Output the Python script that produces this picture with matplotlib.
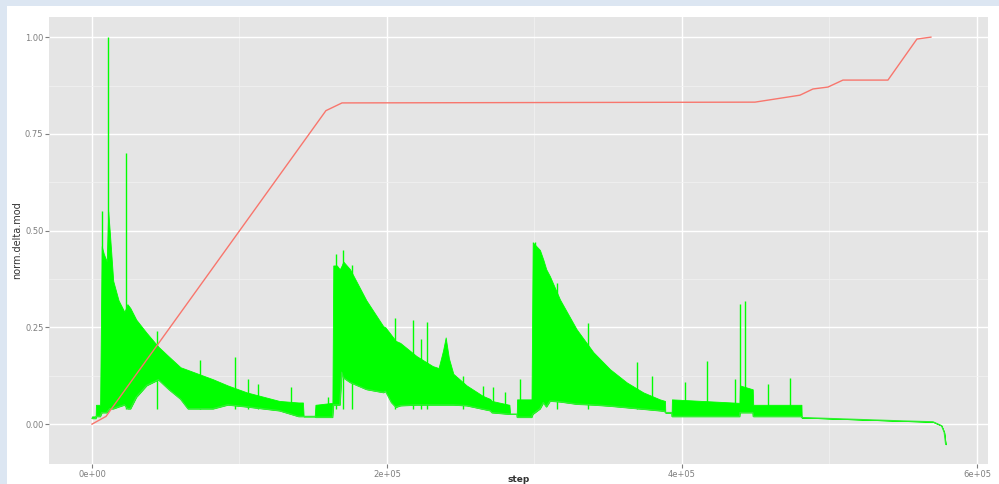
import matplotlib
matplotlib.use("Agg")
from matplotlib import pyplot as plt
from matplotlib.patches import Rectangle

# red series (step, norm.delta.mod)
red_step = [0, 9500, 158600, 169500, 449500, 480000, 488800, 499000, 509150, 539660, 559300, 568800]
red_val = [0.0, 0.02, 0.81, 0.83, 0.832, 0.85, 0.866, 0.871, 0.889, 0.889, 0.995, 1.0]

# green series: envelope of the oscillating signal (step in thousands)
green_k = [0, 2.5, 2.7, 5.5, 6.6, 8, 10, 11, 12, 14.4, 18, 22, 24, 26, 30, 37, 45, 52, 60, 65, 82, 92,
           105, 127, 140, 143, 143.5, 151, 151.5, 163, 163.6, 166, 168, 169.3, 170.4, 175, 186, 197.5,
           199, 203, 206, 209, 220, 231, 235, 238, 239.8, 242, 245, 254, 265, 270, 271, 283, 283.5,
           288, 288.2, 298, 298.8, 303.7, 306, 308, 310.5, 317.3, 328.6, 339.9, 351.2, 362.5, 373.8,
           385, 388.5, 388.7, 393, 393.2, 439, 439.3, 448, 448.3, 481, 481.2, 547.8, 570.2, 576,
           577.8, 578.8]
green_hi = [0.02, 0.02, 0.05, 0.05, 0.46, 0.44, 0.42, 0.55, 0.5, 0.37, 0.32, 0.29, 0.31, 0.3, 0.27, 0.236,
            0.2, 0.175, 0.147, 0.14, 0.116, 0.10, 0.082, 0.06, 0.056, 0.056, 0.02, 0.02, 0.05, 0.055,
            0.41, 0.41, 0.40, 0.41, 0.42, 0.40, 0.32, 0.253, 0.25, 0.23, 0.215, 0.21, 0.176, 0.15,
            0.145, 0.19, 0.224, 0.17, 0.13, 0.10, 0.073, 0.065, 0.06, 0.05, 0.026, 0.026, 0.064, 0.064,
            0.47, 0.45, 0.425, 0.40, 0.382, 0.322, 0.245, 0.186, 0.142, 0.108, 0.082, 0.064, 0.06,
            0.03, 0.03, 0.064, 0.055, 0.10, 0.09, 0.05, 0.05, 0.017, 0.0085, 0.006, -0.004, -0.021,
            -0.052]
green_lo = [0.015, 0.015, 0.02, 0.02, 0.03, 0.03, 0.03, 0.035, 0.04, 0.04, 0.045, 0.05, 0.04, 0.04, 0.07,
            0.10, 0.115, 0.09, 0.065, 0.04, 0.04, 0.05, 0.045, 0.035, 0.02, 0.02, 0.02, 0.02, 0.018,
            0.018, 0.05, 0.05, 0.05, 0.134, 0.12, 0.108, 0.09, 0.082, 0.085, 0.056, 0.044, 0.048, 0.05,
            0.05, 0.05, 0.05, 0.05, 0.05, 0.05, 0.048, 0.039, 0.035, 0.03, 0.026, 0.026, 0.026, 0.018,
            0.018, 0.026, 0.04, 0.056, 0.045, 0.06, 0.058, 0.052, 0.05, 0.047, 0.043, 0.039, 0.035,
            0.033, 0.03, 0.03, 0.02, 0.02, 0.03, 0.03, 0.02, 0.02, 0.017, 0.0085, 0.006, -0.004, -0.021,
            -0.052]

# isolated spikes of the green series (step in thousands, peak)
spike_k = [7, 10.8, 22.8, 43.8, 73, 97, 106, 112.5, 135, 160, 165.2, 170.4, 176, 205.4, 217.9, 222.9,
           227.4, 251.8, 264.9, 272, 280, 290.2, 300.3, 315.5, 336.5, 369.3, 380, 402, 417, 436,
           439.3, 442.7, 458.5, 473]
spike_val = [0.55, 1.0, 0.70, 0.24, 0.167, 0.173, 0.116, 0.105, 0.095, 0.07, 0.44, 0.45, 0.41, 0.275,
             0.27, 0.22, 0.265, 0.125, 0.099, 0.095, 0.082, 0.116, 0.47, 0.365, 0.262, 0.16, 0.125,
             0.108, 0.162, 0.116, 0.31, 0.317, 0.103, 0.12]

x_ticks = [0, 200000, 400000, 600000]
x_labels = ["0e+00", "2e+05", "4e+05", "6e+05"]
y_ticks = [0.0, 0.25, 0.5, 0.75, 1.0]
y_labels = ["0.00", "0.25", "0.50", "0.75", "1.00"]

fig = plt.figure(figsize=(9.99, 4.84), dpi=100, facecolor="#dce6f2")
# white page inside the light blue frame
fig.patches.append(Rectangle((7 / 999, 0), 1, 1 - 6 / 484, transform=fig.transFigure,
                             facecolor="white", edgecolor="none", zorder=-10))
ax = fig.add_axes([49 / 999, 1 - 464 / 484, 939 / 999, 447 / 484])
ax.set_zorder(5)
ax.set_facecolor("#e5e5e5")

gx = [k * 1000 for k in green_k]
ax.vlines([k * 1000 for k in spike_k], 0.04, spike_val, color="#00ff00", linewidth=1.0, zorder=2)
ax.fill_between(gx, green_lo, green_hi, color="#00ff00", linewidth=0.6, zorder=3)
ax.plot(gx, green_lo, color="#33ee33", linewidth=0.9, zorder=3)
ax.plot(red_step, red_val, color="#F8766D", linewidth=1.0, zorder=4)

ax.set_xlim(-29150, 607500)
ax.set_ylim(-0.103, 1.052)
ax.set_xticks(x_ticks)
ax.set_xticklabels(x_labels)
ax.set_yticks(y_ticks)
ax.set_yticklabels(y_labels)
ax.set_xticks([100000, 300000, 500000], minor=True)
ax.set_yticks([0.125, 0.375, 0.625, 0.875], minor=True)
ax.grid(which="major", color="white", linewidth=1.0)
ax.grid(which="minor", color="#f2f2f2", linewidth=0.5)
ax.set_axisbelow(True)
for s in ax.spines.values():
    s.set_visible(False)
ax.tick_params(which="major", length=3, color="#7f7f7f", labelsize=6, labelcolor="#7f7f7f", pad=1)
ax.tick_params(which="minor", length=0)

ax.set_xlabel("step", fontsize=6.5, fontweight="bold", color="#333333")
ax.xaxis.set_label_coords(0.5, -0.024)
ax.set_ylabel("norm.delta.mod", fontsize=7, color="#333333")
ax.yaxis.set_label_coords(-0.029, 0.5)

fig.savefig("out.png", dpi=100, facecolor=fig.get_facecolor())
